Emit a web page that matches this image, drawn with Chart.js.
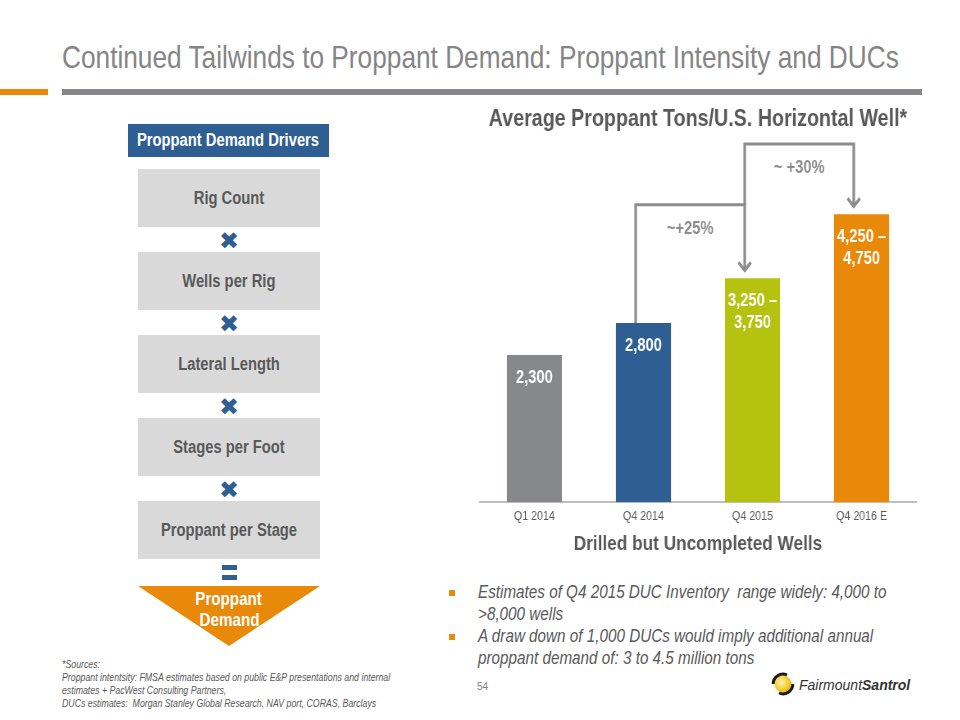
<!DOCTYPE html>
<html>
<head>
<meta charset="utf-8">
<script src="https://cdn.jsdelivr.net/npm/chart.js@4.4.1/dist/chart.umd.min.js"></script>
<style>
  body { margin: 0; background: #fff; }
  #slide { position: relative; width: 960px; height: 720px; overflow: hidden;
    font-family: "Liberation Sans", Arial, sans-serif; }
  .abs { position: absolute; }
  /* Arial Narrow look: Liberation Sans squeezed horizontally */
  .n { display: inline-block; transform: scaleX(0.82); white-space: nowrap; }
  .nl { transform-origin: 0 0; }
  .nc { transform-origin: 50% 0; }
  .center { display: flex; justify-content: center; align-items: center; }
  #title { left: 62px; top: 39px; font-size: 32px; line-height: 36px; color: #858585; }
  .rule { height: 6px; top: 89px; }
  .hdr { left: 128px; top: 124px; width: 201px; height: 33px; background: #2e5e92;
    color: #fff; font-weight: bold; font-size: 18px; }
  .box { left: 138px; width: 182px; height: 58px; background: #d9d9d9;
    color: #595959; font-weight: bold; font-size: 18px; }
  .times { left: 214px; width: 30px; text-align: center; color: #2e5e92; font-size: 24px; line-height: 24px;
    font-family: "DejaVu Sans", sans-serif; }
  .eq { left: 222px; width: 15px; height: 5px; background: #2e5e92; }
  #tri { left: 138px; top: 586px; width: 182px; height: 60px; background: #e9890a;
    clip-path: polygon(0 0, 100% 0, 50% 100%); }
  .triText { left: 138px; width: 182px; color: #fff; font-weight: bold; font-size: 18.5px; height: 22px; }
  #chartBox { left: 470px; top: 100px; width: 460px; height: 459px; }
  #chartBox canvas { transform: scaleX(0.82); transform-origin: 0 0; }
  .bullet { left: 449px; width: 6px; height: 6px; background: #e9890a; }
  .btext { left: 478px; font-style: italic; font-size: 18.6px; line-height: 22px; color: #595959; }
  #foot { left: 62px; top: 658px; font-style: italic; font-size: 10.7px; line-height: 13px; color: #595959; }
  #page { left: 477px; top: 681px; font-size: 10px; color: #7f7f7f; }
  #logoText { left: 799px; top: 677px; font-size: 14px; line-height: 16px; font-style: italic; color: #333; }
</style>
</head>
<body>
<div id="slide">
  <div id="title" class="abs"><span class="n nl">Continued Tailwinds to Proppant Demand: Proppant Intensity and DUCs</span></div>
  <div class="abs rule" style="left:0;width:48px;background:#e9890a"></div>
  <div class="abs rule" style="left:62px;width:860px;background:#87888a"></div>

  <div class="abs hdr center"><span class="n nc">Proppant Demand Drivers</span></div>
  <div class="abs box center" style="top:169px"><span class="n nc">Rig Count</span></div>
  <div class="abs times" style="top:229px">✖</div>
  <div class="abs box center" style="top:252px"><span class="n nc">Wells per Rig</span></div>
  <div class="abs times" style="top:312px">✖</div>
  <div class="abs box center" style="top:335px"><span class="n nc">Lateral Length</span></div>
  <div class="abs times" style="top:395px">✖</div>
  <div class="abs box center" style="top:418px"><span class="n nc">Stages per Foot</span></div>
  <div class="abs times" style="top:478px">✖</div>
  <div class="abs box center" style="top:501px"><span class="n nc">Proppant per Stage</span></div>
  <div class="abs eq" style="top:565px"></div>
  <div class="abs eq" style="top:575px"></div>
  <div id="tri" class="abs"></div>
  <div class="abs triText center" style="top:588px"><span class="n nc">Proppant</span></div>
  <div class="abs triText center" style="top:609px"><span class="n nc">Demand</span></div>

  <div id="chartBox" class="abs"><canvas id="chart" width="561" height="459"></canvas></div>

  <div class="abs bullet" style="top:590px"></div>
  <div class="abs btext" style="top:581px"><span class="n nl">Estimates of Q4 2015 DUC Inventory&nbsp; range widely: 4,000 to<br>&gt;8,000 wells</span></div>
  <div class="abs bullet" style="top:634px"></div>
  <div class="abs btext" style="top:625px"><span class="n nl">A draw down of 1,000 DUCs would imply additional annual<br>proppant demand of: 3 to 4.5 million tons</span></div>

  <div id="foot" class="abs"><span class="n nl">*Sources:<br>Proppant intentsity: FMSA estimates based on public E&amp;P presentations and internal<br>estimates + PacWest Consulting Partners,<br>DUCs estimates:&nbsp; Morgan Stanley Global Research, NAV port, CORAS, Barclays</span></div>
  <div id="page" class="abs">54</div>

  <svg class="abs" style="left:771px;top:672px" width="24" height="24" viewBox="0 0 24 24">
    <defs>
      <radialGradient id="sun" cx="40%" cy="40%" r="60%">
        <stop offset="0" stop-color="#fff3b0"/>
        <stop offset="1" stop-color="#eebb00"/>
      </radialGradient>
    </defs>
    <circle cx="12" cy="12" r="8.5" fill="url(#sun)"/>
    <path d="M2.2 12 A9.8 9.8 0 0 1 16 3" stroke="#1a1a1a" stroke-width="3" fill="none"/>
    <path d="M21.8 12 A9.8 9.8 0 0 1 8 21" stroke="#1a1a1a" stroke-width="3" fill="none"/>
  </svg>
  <div id="logoText" class="abs">Fairmount<b>Santrol</b></div>
</div>

<script>
const FONT = '"Liberation Sans", Arial, sans-serif';

const categories = ['Q1 2014', 'Q4 2014', 'Q4 2015', 'Q4 2016 E'];
const tonsPerWell = [2300, 2800, 3500, 4500];
const barLabels = [['2,300'], ['2,800'], ['3,250 –', '3,750'], ['4,250 –', '4,750']];
const barColors = ['#87888a', '#2e5e92', '#b5c20f', '#e9890a'];

// growth brackets: from bar -> to bar, drawn at the given level (tons)
const stepFrom = [1, 2];
const stepTo = [2, 3];
const stepLevels = [4650, 5600];
const stepLabels = ['~+25%', '~ +30%'];

const barText = {
    id: 'barText',
    afterDatasetsDraw(chart) {
        const ctx = chart.ctx;
        const meta = chart.getDatasetMeta(0);
        ctx.save();
        ctx.fillStyle = '#fff';
        ctx.font = 'bold 18px ' + FONT;
        ctx.textAlign = 'center';
        ctx.textBaseline = 'middle';
        meta.data.forEach((bar, i) => {
            barLabels[i].forEach((line, j) => {
                ctx.fillText(line, bar.x, bar.y + 23 + j * 22);
            });
        });
        ctx.restore();
    }
};

const brackets = {
    id: 'brackets',
    afterDatasetsDraw(chart) {
        const ctx = chart.ctx;
        const meta = chart.getDatasetMeta(0);
        const yScale = chart.scales.y;
        const shift = -9.5;
        ctx.save();
        ctx.strokeStyle = '#8c8c8c';
        ctx.fillStyle = '#8c8c8c';
        ctx.lineWidth = 3.2;
        ctx.font = 'bold 18px ' + FONT;
        ctx.textAlign = 'center';
        ctx.textBaseline = 'middle';
        stepFrom.forEach((from, i) => {
            const x1 = meta.data[from].x + shift;
            const x2 = meta.data[stepTo[i]].x + shift;
            const yStart = i === 0 ? meta.data[from].y : yScale.getPixelForValue(stepLevels[i - 1]);
            const yTop = yScale.getPixelForValue(stepLevels[i]);
            const yEnd = meta.data[stepTo[i]].y - 7;
            ctx.beginPath();
            ctx.moveTo(x1, yStart);
            ctx.lineTo(x1, yTop);
            ctx.lineTo(x2, yTop);
            ctx.lineTo(x2, yEnd - 1);
            ctx.stroke();
            ctx.beginPath();
            ctx.moveTo(x2 - 7.5, yEnd - 9);
            ctx.lineTo(x2, yEnd - 1);
            ctx.lineTo(x2 + 7.5, yEnd - 9);
            ctx.stroke();
            ctx.fillText(stepLabels[i], (x1 + x2) / 2, yTop + 24);
        });
        ctx.restore();
    }
};

new Chart(document.getElementById('chart'), {
    type: 'bar',
    data: {
        labels: categories,
        datasets: [{
            data: tonsPerWell,
            backgroundColor: barColors,
            barPercentage: 0.505,
            categoryPercentage: 1
        }]
    },
    options: {
        responsive: false,
        animation: false,
        layout: { padding: { left: 12, right: 17, top: 0, bottom: 0 } },
        plugins: {
            legend: { display: false },
            tooltip: { enabled: false },
            title: {
                display: true,
                text: 'Average Proppant Tons/U.S. Horizontal Well*',
                color: '#595959',
                font: { family: FONT, size: 24, weight: 'bold' },
                padding: { top: 5, bottom: 7 }
            }
        },
        scales: {
            x: {
                grid: { display: false, drawTicks: false },
                border: { display: true, color: '#bfbfbf', width: 2 },
                ticks: { color: '#595959', font: { family: FONT, size: 13 }, padding: 6 },
                title: {
                    display: true,
                    text: 'Drilled but Uncompleted Wells',
                    color: '#595959',
                    font: { family: FONT, size: 21, weight: 'bold' },
                    padding: { top: 2, bottom: 2 }
                }
            },
            y: { display: false, min: 0, max: 5650 }
        }
    },
    plugins: [barText, brackets]
});
</script>
</body>
</html>
